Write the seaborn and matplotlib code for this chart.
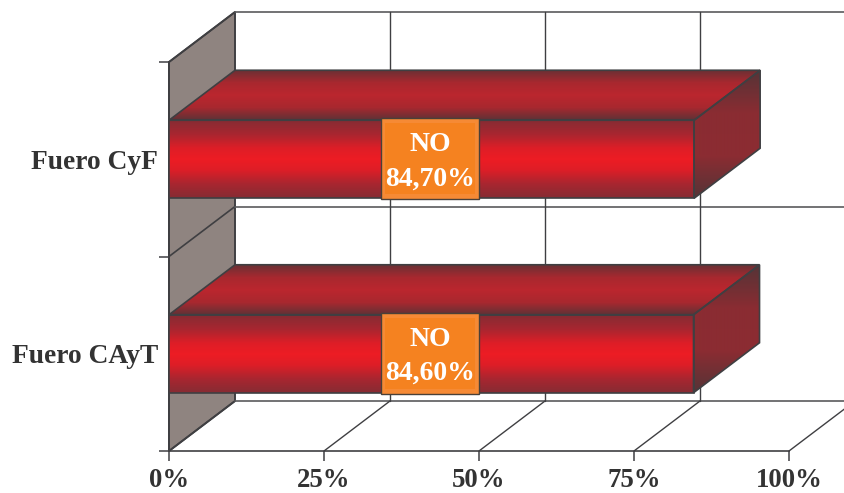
import numpy as np
import pandas as pd
import matplotlib
matplotlib.use('Agg')
import matplotlib.pyplot as plt
from matplotlib.patches import Polygon, Rectangle
from matplotlib.colors import LinearSegmentedColormap
import seaborn as sns

categories = ['Fuero CyF', 'Fuero CAyT']
values = [84.70, 84.60]
bar_labels = ['NO\n84,70%', 'NO\n84,60%']
x_ticks = [0, 25, 50, 75, 100]
x_ticklabels = ['0%', '25%', '50%', '75%', '100%']

W, H = 844, 493
L, R, T, B = 169, 789, 62, 451  # plot box in pixels
px_x = 100 / (R - L)  # data units per pixel
px_y = 2 / (B - T)
dx = 66 * px_x  # 3d depth
dy = 50 * px_y

sns.set_style('white')
plt.rcParams['font.family'] = ['Liberation Serif', 'DejaVu Serif']
fig = plt.figure(figsize=(W / 100, H / 100), dpi=100)
ax = fig.add_axes([L / W, 1 - B / H, (R - L) / W, (B - T) / H])
line_col = '#3f3f42'

df = pd.DataFrame({'fuero': categories, 'valor': values})
sns.barplot(data=df, y='fuero', x='valor', orient='h', width=78 / 194.5, color='red', ax=ax, zorder=6)

ylo, yhi = 1.5, -0.5
#back wall
wall = Polygon([(0, yhi), (dx, yhi - dy), (dx, ylo - dy), (0, ylo)], fc='#8f8480', ec=line_col, lw=1.4, clip_on=False, zorder=1)
ax.add_patch(wall)
for yy in [yhi, 0.5, ylo]:
    ax.plot([0, dx], [yy, yy - dy], color=line_col, lw=1.2, clip_on=False, zorder=2)
    ax.plot([dx, 100 + dx], [yy - dy, yy - dy], color='#5a5a5c', lw=1.2, clip_on=False, zorder=2)
#grid on the back and floor
for t in x_ticks[1:]:
    ax.plot([t + dx, t + dx], [yhi - dy, ylo - dy], color=line_col, lw=1, clip_on=False, zorder=2)
    ax.plot([t, t + dx], [ylo, ylo - dy], color=line_col, lw=1, clip_on=False, zorder=2)

front_stops = [(0, '#862c33'), (0.18, '#a82630'), (0.36, '#de1e27'), (0.5, '#ed1c24'),
               (0.64, '#de1e27'), (0.82, '#a82630'), (1, '#862c33')]
front_cmap = LinearSegmentedColormap.from_list('f', front_stops)
top_cmap = LinearSegmentedColormap.from_list('t', ['#6b3034', '#a8282f', '#bb262e', '#a8282f', '#5e3236'])
side_cmap = LinearSegmentedColormap.from_list('s', ['#553437', '#8a2c32', '#8c2c32', '#553437'])
grad = np.linspace(0, 1, 256).reshape(-1, 1)


def fill_grad(poly, cmap, x0, x1, y0, y1, z):
    ax.add_patch(poly)
    im = ax.imshow(grad, cmap=cmap, extent=[x0, x1, y0, y1], origin='upper', aspect='auto', interpolation='bilinear', zorder=z)
    im.set_clip_path(poly)


for bar, lab, val in zip(ax.patches[:len(values)], bar_labels, values):
    x1 = bar.get_width()
    yt = bar.get_y()
    yb = yt + bar.get_height()
    #faces
    top = Polygon([(0, yt), (dx, yt - dy), (x1 + dx, yt - dy), (x1, yt)], fc='none', ec=line_col, lw=1.2, clip_on=False, zorder=5)
    side = Polygon([(x1, yt), (x1 + dx, yt - dy), (x1 + dx, yb - dy), (x1, yb)], fc='none', ec=line_col, lw=1.2, clip_on=False, zorder=5)
    fill_grad(top, top_cmap, 0, x1 + dx, yt, yt - dy, 4)
    fill_grad(side, side_cmap, x1, x1 + dx, yb, yt - dy, 4)
    im = ax.imshow(grad, cmap=front_cmap, extent=[0, x1, yb, yt], origin='upper', aspect='auto', interpolation='bilinear', zorder=4)
    im.set_clip_path(bar)
    bar.set_facecolor('none')
    bar.set_edgecolor(line_col)
    bar.set_linewidth(1.2)
    bar.set_clip_on(False)
    #label box
    cy = (yt + yb) / 2 - 0.5 * px_y
    bw, bh = 98 * px_x, 81 * px_y
    cx = x1 / 2 - 0.2
    ax.add_patch(Rectangle((cx - bw / 2, cy - bh / 2), bw, bh, fc='#f68a35', ec='#4a4038', lw=1, zorder=7))
    ax.add_patch(Rectangle((cx - bw / 2 + 4 * px_x, cy - bh / 2 + 5 * px_y), bw - 8 * px_x, bh - 10 * px_y, fc='#f58220', ec='none', zorder=7))
    ax.text(cx, cy + 3 * px_y, lab, color='white', fontsize=20, fontweight='bold', ha='center', va='center', linespacing=1.5, zorder=8)

ax.set_xlim(0, 100)
ax.set_ylim(ylo, yhi)
ax.set_xlabel('')
ax.set_ylabel('')
ax.set_xticks(x_ticks)
ax.set_xticklabels(x_ticklabels)
ax.set_yticks([yhi, 0.5, ylo], minor=True)
ax.tick_params(axis='x', length=7, width=1.1, color=line_col, labelsize=19.3, labelcolor='#333333', pad=5, bottom=True)
ax.tick_params(axis='y', which='major', length=0, labelsize=19.8, labelcolor='#333333', pad=8)
ax.tick_params(axis='y', which='minor', length=7, width=1.1, color=line_col, left=True)
for lab in ax.get_xticklabels() + ax.get_yticklabels():
    lab.set_fontweight('bold')
for s in ['top', 'right']:
    ax.spines[s].set_visible(False)
for s in ['left', 'bottom']:
    ax.spines[s].set_color(line_col)
    ax.spines[s].set_linewidth(1.2)
ax.patch.set_alpha(0)
fig.savefig('out.png', dpi=100)
